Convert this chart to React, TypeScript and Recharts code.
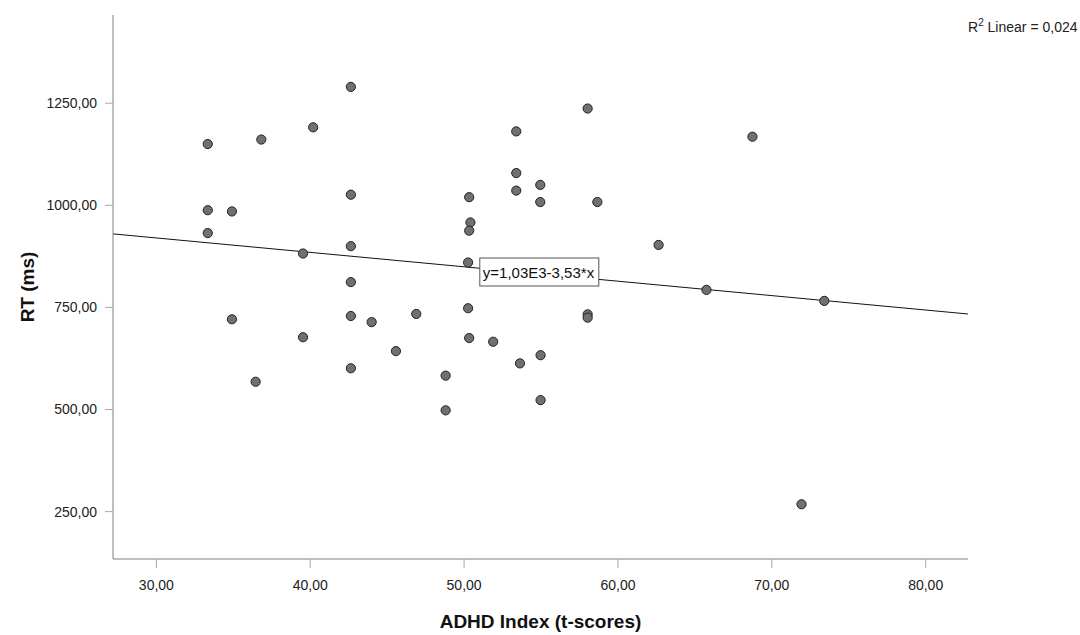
import { ScatterChart, Scatter, XAxis, YAxis, ReferenceLine, ReferenceDot } from 'recharts'

// ADHD index (t-scores) per participant
const adhdIndex = [
  33.34, 36.82, 40.19, 42.64, 33.34, 34.91, 42.64, 33.34, 39.53, 42.64, 42.64,
  58.03, 53.39, 53.39, 54.95, 53.39, 50.33, 54.95, 58.66, 50.41, 50.33, 62.64, 50.26,
  68.74,
  34.91, 36.45, 39.53, 42.64, 43.99, 42.64, 45.57,
  46.89, 50.26, 50.33, 51.89, 48.8, 48.8, 53.63, 54.97, 54.97, 58.03, 58.03,
  65.75, 73.41, 71.93,
]

// mean reaction time (ms) per participant
const reactionTime = [
  1150, 1161, 1191, 1290, 988, 985, 1026, 932, 882, 900, 812,
  1237, 1181, 1079, 1050, 1036, 1020, 1008, 1008, 958, 938, 903, 860,
  1168,
  721, 568, 677, 729, 714, 601, 643,
  734, 748, 675, 666, 583, 498, 613, 633, 523, 733, 725,
  793, 766, 268,
]

const xTicks = [30, 40, 50, 60, 70, 80]
const yTicks = [250, 500, 750, 1000, 1250]

// fit line: y = 1,03E3 - 3,53*x
const intercept = 1026
const slope = -3.53

const xDomain: [number, number] = [27.18, 82.75]
const yDomain: [number, number] = [134, 1466]

const points = adhdIndex.map((x, i) => ({ x, y: reactionTime[i] }))
const fit = xDomain.map((x) => ({ x, y: intercept + slope * x }))

const fmt = (v: number) => v.toFixed(2).replace('.', ',')
const font = '"Liberation Sans", Arial, sans-serif'

function Dot(props: any) {
  return <circle cx={props.cx} cy={props.cy} r={4.6} fill="#707070" stroke="#222" strokeWidth={1} />
}

function EquationBox(props: any) {
  const { cx, cy } = props
  return (
    <g>
      <rect x={cx} y={cy} width={119} height={28} fill="#fff" stroke="#555" strokeWidth={1} />
      <text x={cx + 3} y={cy + 19.5} fontSize={15} fill="#111" fontFamily={font}>
        y=1,03E3-3,53*x
      </text>
    </g>
  )
}

export default function App() {
  return (
    <div style={{ position: 'absolute', left: 0, top: 0, width: 1080, height: 635, background: '#fff', fontFamily: font }}>
      <ScatterChart width={1080} height={635} margin={{ top: 15, right: 112, bottom: 0, left: 0 }}>
        <XAxis
          type="number"
          dataKey="x"
          domain={xDomain}
          ticks={xTicks}
          tickFormatter={fmt}
          allowDataOverflow
          height={76}
          tickSize={9}
          tickMargin={12}
          axisLine={{ stroke: '#808080' }}
          tickLine={{ stroke: '#a8a8a8' }}
          tick={{ fontSize: 14, fill: '#222', fontFamily: font }}
          label={{
            value: 'ADHD Index (t-scores)',
            position: 'insideBottom',
            offset: 7,
            style: { fontSize: 19, fontWeight: 'bold', fill: '#111', fontFamily: font },
          }}
        />
        <YAxis
          type="number"
          dataKey="y"
          domain={yDomain}
          ticks={yTicks}
          tickFormatter={fmt}
          allowDataOverflow
          width={113}
          tickSize={8}
          tickMargin={8}
          axisLine={{ stroke: '#808080' }}
          tickLine={{ stroke: '#a8a8a8' }}
          tick={{ fontSize: 14, fill: '#222', fontFamily: font }}
          label={{
            value: 'RT (ms)',
            angle: -90,
            position: 'insideLeft',
            offset: 27,
            style: { fontSize: 19, fontWeight: 'bold', fill: '#111', fontFamily: font, textAnchor: 'middle' },
          }}
        />
        <ReferenceLine segment={fit} stroke="#111" strokeWidth={1} ifOverflow="visible" />
        <Scatter data={points} shape={Dot} isAnimationActive={false} />
        <ReferenceDot x={51.02} y={871} r={0} shape={EquationBox} ifOverflow="visible" />
      </ScatterChart>
      <div style={{ position: 'absolute', left: 968, top: 18, fontSize: 14, lineHeight: '18px', color: '#222', whiteSpace: 'nowrap' }}>
        R<sup style={{ fontSize: 10, lineHeight: 0 }}>2</sup> Linear = 0,024
      </div>
    </div>
  )
}
